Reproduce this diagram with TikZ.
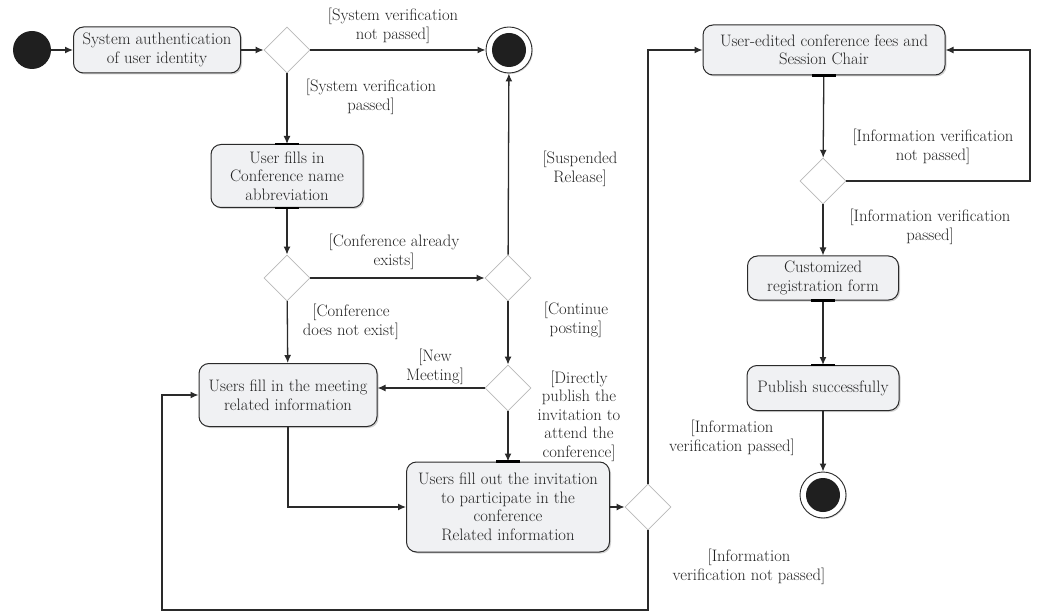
\documentclass[tikz,border=0pt]{standalone}
\usetikzlibrary{shapes.geometric,arrows.meta,shadows}
\definecolor{txt}{HTML}{222222}
\definecolor{ln}{HTML}{2A2A2A}
\definecolor{boxfill}{HTML}{F0F1F3}
\tikzset{
  act/.style={rectangle, rounded corners=10pt, draw=ln, fill=boxfill, line width=1pt, align=center,
    text=txt, inner sep=1pt, drop shadow={opacity=0.35, shadow xshift=1.5pt, shadow yshift=-1.5pt}},
  dec/.style={diamond, draw=gray!55, fill=white, minimum width=46pt, minimum height=46pt, inner sep=0pt, line width=0.8pt},
  lbl/.style={align=center, text=txt},
  flow/.style={-{Latex[length=8pt,width=7pt]}, line width=1.3pt, draw=ln},
  pinbar/.style={line width=2.6pt, draw=black},
  startnode/.style={circle, fill=black!88, minimum size=38pt, inner sep=0pt},
  endnode/.style={circle, draw=ln, fill=white, minimum size=46pt, inner sep=0pt, line width=0.9pt,
    drop shadow={opacity=0.3, shadow xshift=1pt, shadow yshift=-1pt}}
}
\begin{document}
\begin{tikzpicture}[x=1pt,y=-1pt,font=\fontsize{16.6}{18.5}\selectfont]
\useasboundingbox (0,0) rectangle (1038,612);
% nodes
\node[startnode] (s) at (32,50) {};
\node[act, minimum width=167pt, minimum height=46pt] (b1) at (157,50) {System authentication\\of user identity};
\node[dec] (d1) at (287,50) {};
\node[endnode] (f1) at (509,50) {};
\fill[black!88] (f1.center) circle (17pt);
\node[act, minimum width=152pt, minimum height=63pt] (b2) at (287,176) {User fills in\\Conference name\\abbreviation};
\node[dec] (d2) at (287,278) {};
\node[dec] (d3) at (508,278) {};
\node[act, minimum width=178pt, minimum height=63pt] (b3) at (288,395) {Users fill in the meeting\\related information};
\node[dec] (d4) at (508,388) {};
\node[act, minimum width=203pt, minimum height=90pt] (b4) at (508,507) {Users fill out the invitation\\to participate in the\\conference\\Related information};
\node[dec] (d6) at (648,507) {};
\node[act, minimum width=242pt, minimum height=50pt] (b5) at (824,50) {User-edited conference fees and\\Session Chair};
\node[dec] (d5) at (823,181) {};
\node[act, minimum width=151pt, minimum height=44pt] (b6) at (823,278) {Customized\\registration form};
\node[act, minimum width=152pt, minimum height=45pt] (b7) at (823,388) {Publish successfully};
\node[endnode] (f2) at (823,495) {};
\fill[black!88] (f2.center) circle (17pt);

% corner coordinates
\coordinate (c1) at (288,507);
\coordinate (c2) at (648,50);
\coordinate (c3) at (648,610);
\coordinate (c4) at (162,610);
\coordinate (c5) at (162,395);
\coordinate (c6) at (1030,181);
\coordinate (c7) at (1030,50);

% connectors
\draw[flow] (s) -- (b1);
\draw[flow] (b1) -- (d1);
\draw[flow] (d1) -- (f1);
\draw[flow] (d1) -- (b2);
\draw[flow] (b2) -- (d2);
\draw[flow] (d2) -- (d3);
\draw[flow] (d2) -- (b3);
\draw[flow] (d3) -- (f1);
\draw[flow] (d3) -- (d4);
\draw[flow] (d4) -- (b3.east |- d4);
\draw[flow] (d4) -- (b4);
\draw[flow] (b3.south) -- (c1) -- (b4.west);
\draw[flow] (b4) -- (d6);
\draw[flow] (d6.north) -- (c2) -- (b5.west);
\draw[flow] (d6.south) -- (c3) -- (c4) -- (c5) -- (b3.west);
\draw[flow] (b5) -- (d5);
\draw[flow] (d5.east) -- (c6) -- (c7) -- (b5.east);
\draw[flow] (d5) -- (b6);
\draw[flow] (b6) -- (b7);
\draw[flow] (b7) -- (f2);

% pin bars
\draw[pinbar] ([xshift=-12pt]b2.north) -- ([xshift=12pt]b2.north);
\draw[pinbar] ([xshift=-12pt]b2.south) -- ([xshift=12pt]b2.south);
\draw[pinbar] ([xshift=-12pt]b4.north) -- ([xshift=12pt]b4.north);
\draw[pinbar] ([xshift=-12pt]b5.south) -- ([xshift=12pt]b5.south);
\draw[pinbar] ([xshift=-12pt]b6.south) -- ([xshift=12pt]b6.south);
\draw[pinbar] ([xshift=-12pt]b7.north) -- ([xshift=12pt]b7.north);

% labels
\node[lbl] (l1) at (393,26) {[System verification\\not passed]};
\node[lbl] (l2) at (371,97) {[System verification\\passed]};
\node[lbl] (l3) at (394,252) {[Conference already\\exists]};
\node[lbl] (l4) at (351,322) {[Conference\\does not exist]};
\node[lbl] (l5) at (580,169) {[Suspended\\Release]};
\node[lbl] (l6) at (576,320) {[Continue\\posting]};
\node[lbl] (l7) at (435,367) {[New\\Meeting]};
\node[lbl] (l8) at (579,416) {[Directly\\publish the\\invitation to\\attend the\\conference]};
\node[lbl] (l9) at (933,147) {[Information verification\\not passed]};
\node[lbl] (l10) at (930,227) {[Information verification\\passed]};
\node[lbl] (l11) at (732,438) {[Information\\verification passed]};
\node[lbl] (l12) at (749,567) {[Information\\verification not passed]};
\end{tikzpicture}
\end{document}
